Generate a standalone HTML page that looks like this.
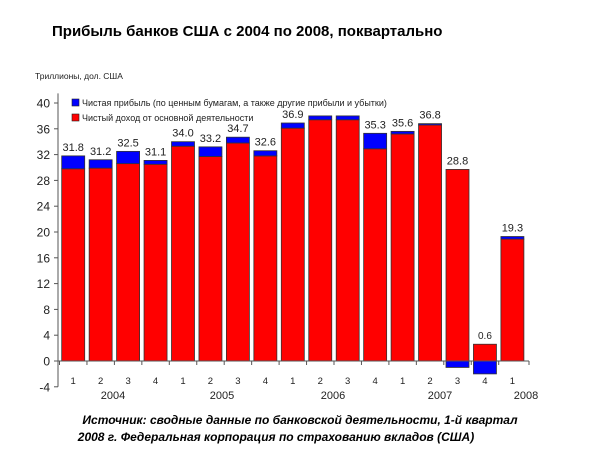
<!DOCTYPE html>
<html><head><meta charset="utf-8"><style>
body{margin:0;background:#fff;width:600px;height:450px;overflow:hidden;font-family:"Liberation Sans",sans-serif}
</style></head><body>
<svg id="s" width="600" height="450" xmlns="http://www.w3.org/2000/svg" font-family="Liberation Sans, sans-serif">
<text x="52" y="36" font-size="15" font-weight="bold" fill="#000">Прибыль банков США с 2004 по 2008, поквартально</text>
<text x="35" y="79" font-size="8.5" fill="#222">Триллионы, дол. США</text>
<g id="g"></g>
<g font-size="11" text-anchor="middle" fill="#222">
<text x="73.2" y="150.9">31.8</text>
<text x="100.65" y="154.8">31.2</text>
<text x="128.1" y="146.4">32.5</text>
<text x="155.55" y="155.4">31.1</text>
<text x="183" y="136.7">34.0</text>
<text x="210.45" y="141.9">33.2</text>
<text x="237.9" y="132.2">34.7</text>
<text x="265.35" y="145.7">32.6</text>
<text x="292.8" y="118">36.9</text>
<text x="375.15" y="128.3">35.3</text>
<text x="402.6" y="126.4">35.6</text>
<text x="430.05" y="118.6">36.8</text>
<text x="457.5" y="164.4">28.8</text>
<text x="484.95" y="339.2" font-size="10">0.6</text>
<text x="512.4" y="231.5">19.3</text>
</g>
<rect x="72" y="99" width="7" height="7" fill="#00f" stroke="#222" stroke-width="0.6"/>
<text x="82" y="106" font-size="9" fill="#222">Чистая прибыль (по ценным бумагам, а также другие прибыли и убытки)</text>
<rect x="72" y="114" width="7" height="7" fill="#f00" stroke="#222" stroke-width="0.6"/>
<text x="82" y="121" font-size="9" fill="#222">Чистый доход от основной деятельности</text>
<text x="300" y="424" font-size="12" font-weight="bold" font-style="italic" text-anchor="middle">Источник: сводные данные по банковской деятельности, 1-й квартал</text>
<text x="276" y="441" font-size="12" font-weight="bold" font-style="italic" text-anchor="middle">2008 г. Федеральная корпорация по страхованию вкладов (США)</text>
</svg>
<script>
var d=[[29.8,31.8],[29.9,31.2],[30.6,32.5],[30.5,31.1],[33.3,34.0],[31.7,33.2],[33.8,34.7],[31.8,32.6],[36.1,36.9],[37.4,38],[37.4,38],[32.9,35.3],[35.2,35.6],[36.6,36.8],[29.7,-1.0],[2.6,-2.0],[18.9,19.3]];
var Y=function(v){return 361-v*6.45};
var h='';
h+='<line x1="58" y1="'+Y(41.5)+'" x2="58" y2="'+Y(-4)+'" stroke="#555" stroke-width="1"/>';
for(var v=-4;v<=40;v+=4){h+='<line x1="54" x2="58" y1="'+Y(v)+'" y2="'+Y(v)+'" stroke="#555"/><text x="50" y="'+(Y(v)+4.5)+'" font-size="12" text-anchor="end" fill="#222">'+v+'</text>';}
var p=27.45,x0=61.7,w=23;
for(var i=0;i<17;i++){var x=x0+i*p,a=d[i];
 h+='<rect x="'+x+'" y="'+Y(a[0])+'" width="'+w+'" height="'+(Y(0)-Y(a[0]))+'" fill="#f00" stroke="#333" stroke-width="0.8"/>';
 if(a[1]>a[0]) h+='<rect x="'+x+'" y="'+Y(a[1])+'" width="'+w+'" height="'+(Y(a[0])-Y(a[1]))+'" fill="#00f" stroke="#333" stroke-width="0.8"/>';
 else if(a[1]<0) h+='<rect x="'+x+'" y="'+Y(0)+'" width="'+w+'" height="'+(Y(a[1])-Y(0))+'" fill="#00f" stroke="#333" stroke-width="0.8"/>';
 h+='<text x="'+(x+w/2)+'" y="384" font-size="9.5" text-anchor="middle" fill="#222">'+(i%4+1)+'</text>';
 h+='<line x1="'+(x-2.2)+'" x2="'+(x-2.2)+'" y1="361" y2="365" stroke="#555"/>';
}
h+='<line x1="58" x2="529" y1="361" y2="361" stroke="#555"/><line x1="529" x2="529" y1="361" y2="365" stroke="#555"/>';
[[113,"2004"],[222,"2005"],[333,"2006"],[440,"2007"],[526,"2008"]].forEach(function(t){h+='<text x="'+t[0]+'" y="399" font-size="11" text-anchor="middle" fill="#222">'+t[1]+'</text>';});
document.getElementById('g').innerHTML=h;
</script>
</body></html>
